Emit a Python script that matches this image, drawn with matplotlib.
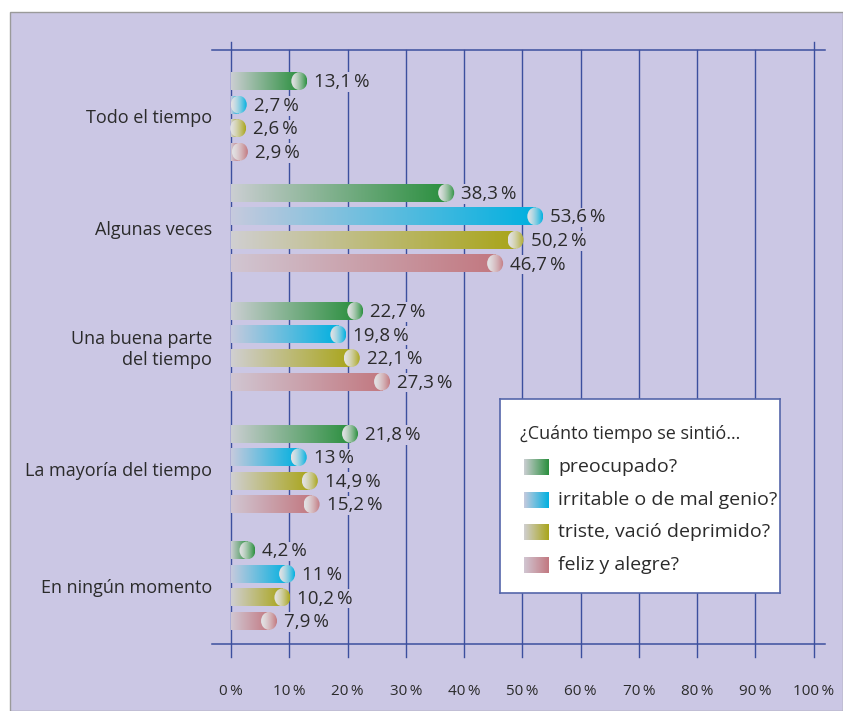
import matplotlib
matplotlib.use("Agg")
import matplotlib.pyplot as plt
import numpy as np
from matplotlib import patches
from matplotlib.colors import to_rgb

plt.rcParams['font.family'] = ['Open Sans', 'DejaVu Sans']

# datos
categorias = ['Todo el tiempo', 'Algunas veces', 'Una buena parte\ndel tiempo',
              'La mayoría del tiempo', 'En ningún momento']
series = ['preocupado?', 'irritable o de mal genio?', 'triste, vació deprimido?', 'feliz y alegre?']
preocupado = [13.1, 38.3, 22.7, 21.8, 4.2]
irritable = [2.7, 53.6, 19.8, 13, 11]
triste = [2.6, 50.2, 22.1, 14.9, 10.2]
feliz = [2.9, 46.7, 27.3, 15.2, 7.9]
ticks = [0, 10, 20, 30, 40, 50, 60, 70, 80, 90, 100]

valores = [preocupado, irritable, triste, feliz]
color_ini = ['#cbced2', '#c6cadd', '#d0cfd1', '#d1c6d2']
color_fin = ['#2a8f3e', '#00b0e0', '#a9a51a', '#c27880']

# posicion vertical de cada grupo (unidades de grupo)
pos_grupo = [0.0, 0.949, 1.953, 2.996, 3.987]

LAVANDA = '#cbc7e4'
AZUL = '#3c4f9e'
TEXTO = '#2b2b2b'

W, H = 843, 711
fig = plt.figure(figsize=(W / 100, H / 100), dpi=100, facecolor='white')

# fondo lila
fondo = patches.Rectangle((10 / W, 0), (W - 10) / W, (H - 12) / H, transform=fig.transFigure,
                          facecolor=LAVANDA, edgecolor='#9a9a9a', lw=1, zorder=-5)
fig.patches.append(fondo)

x0, x1 = 212, 825
y0, y1 = 50, 644
ax = fig.add_axes([x0 / W, 1 - y1 / H, (x1 - x0) / W, (y1 - y0) / H])
ax.set_facecolor('none')

px = 5.827          # pixeles por %
py = 118.0          # pixeles por grupo
h = 18 / py
capw = 16 / px
paso = 0.2


def gradiente(c1, c2, n=256, gamma=1.0):
    t = np.linspace(0, 1, n) ** gamma
    a = np.array(to_rgb(c1))
    b = np.array(to_rgb(c2))
    return (a[None, :] * (1 - t[:, None]) + b[None, :] * t[:, None])[None, :, :]


for j, vals in enumerate(valores):
    for i, v in enumerate(vals):
        y = pos_grupo[i] + (j - 1.5) * paso
        cx = v - capw / 2
        if cx > 0:
            ax.imshow(gradiente(color_ini[j], color_fin[j]), extent=[0, cx, y + h / 2, y - h / 2],
                      aspect='auto', zorder=3, interpolation='bilinear')
        elipse = patches.Ellipse((cx, y), capw, h, facecolor='none', edgecolor='none', zorder=4)
        ax.add_patch(elipse)
        im = ax.imshow(gradiente('#e2e2e4', color_fin[j], gamma=1.5),
                       extent=[cx - capw / 2, cx + capw / 2, y + h / 2, y - h / 2],
                       aspect='auto', zorder=4, interpolation='bilinear')
        im.set_clip_path(elipse)
        etiqueta = ('%g' % v).replace('.', ',') + '\u2009%'
        ax.text(v + 1.2, y + 0.01, etiqueta, ha='left', va='center', fontsize=13.5, color=TEXTO,
                zorder=5, bbox=dict(facecolor=LAVANDA, edgecolor='none', pad=0.5))

ax.set_xlim((x0 - 231) / px, (x1 - 231) / px)
ax.set_ylim(4.483, -0.564)

# rejilla
for t in ticks:
    arriba = 1 + 8 / (y1 - y0) if t in (0, 100) else 1.0
    ax.axvline(t, ymin=-13 / (y1 - y0), ymax=arriba, color=AZUL, lw=1.0, zorder=1, clip_on=False)

for s in ['left', 'right']:
    ax.spines[s].set_visible(False)
for s in ['top', 'bottom']:
    ax.spines[s].set_color(AZUL)
    ax.spines[s].set_linewidth(1.1)

ax.set_xticks(ticks)
ax.set_xticklabels(['%d\u2009%%' % t for t in ticks], fontsize=11, color=TEXTO)
ax.set_yticks(pos_grupo)
ax.set_yticklabels(categorias, fontsize=13, color=TEXTO)
ax.tick_params(axis='x', length=0, pad=29)
ax.tick_params(axis='y', length=0, pad=0)

# leyenda
lx, ly, lw_, lh = 500, 399, 280, 194
lg = fig.add_axes([lx / W, 1 - (ly + lh) / H, lw_ / W, lh / H])
lg.set_facecolor('white')
for s in lg.spines.values():
    s.set_color('#5566aa')
    s.set_linewidth(1.2)
lg.set_xticks([])
lg.set_yticks([])
lg.text(20, 35, '¿Cuánto tiempo se sintió…', fontsize=13, color=TEXTO, va='center', ha='left')
for j, nombre in enumerate(series):
    yc = 68 + j * 32.7
    lg.imshow(gradiente(color_ini[j], color_fin[j]), extent=[24, 49, yc + 8, yc - 8],
              aspect='auto', interpolation='bilinear')
    lg.text(58, yc, nombre, fontsize=14, color=TEXTO, va='center', ha='left')
lg.set_xlim(0, lw_)
lg.set_ylim(lh, 0)

fig.savefig('out.png', dpi=100, facecolor='white')
